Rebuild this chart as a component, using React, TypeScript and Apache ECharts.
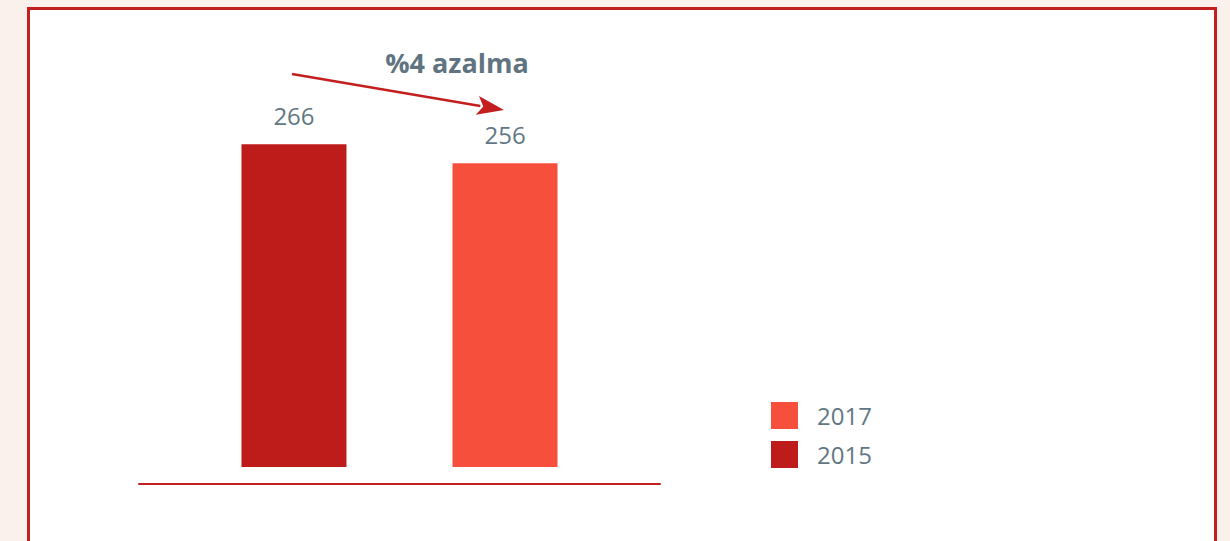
import React, { useEffect, useRef } from "react";
import * as echarts from "echarts";

const categories = ["Toplam"];
const seriesNames = ["2015", "2017"];
const values2015 = [266];
const values2017 = [256];
const legendOrder = ["2017", "2015"];
const titleText = "%4 azalma";

export default function App() {
  const ref = useRef<HTMLDivElement>(null);
  useEffect(() => {
    const chart = echarts.init(ref.current!, null, { renderer: "svg" });
    const grey = "#627784";
    const font = "'Open Sans', Lato, sans-serif";
    const tip = [504, 110];
    const start = [292, 74];
    const dx = tip[0] - start[0];
    const dy = tip[1] - start[1];
    const len = Math.sqrt(dx * dx + dy * dy);
    const ux = dx / len, uy = dy / len;
    const hl = 27, hw = 9.5;
    const bx = tip[0] - ux * hl, by = tip[1] - uy * hl;
    chart.setOption({
      animation: false,
      backgroundColor: "#FBF1EC",
      title: {
        text: titleText,
        left: 452,
        top: 44,
        textAlign: "center",
        textStyle: { color: "#5f7480", fontSize: 27, fontWeight: "bold", fontFamily: font },
      },
      legend: {
        data: legendOrder,
        orient: "vertical",
        left: 771,
        top: 402,
        padding: 0,
        itemWidth: 27,
        itemHeight: 27,
        itemGap: 12,
        icon: "rect",
        textStyle: { color: grey, fontSize: 24, fontFamily: font, padding: [0, 0, 0, 14] },
      },
      grid: { left: 139, right: 570, top: 79.4, bottom: 541 - 467 },
      xAxis: {
        type: "category",
        data: categories,
        offset: 17,
        axisLine: { show: true, lineStyle: { color: "#C41F1F", width: 2 } },
        axisTick: { show: false },
        axisLabel: { show: false },
      },
      yAxis: {
        type: "value",
        min: 96.5,
        max: 300,
        show: false,
        splitLine: { show: false },
      },
      graphic: [
        {
          type: "rect",
          z: -10,
          silent: true,
          shape: { x: 28.5, y: 8.5, width: 1187, height: 620 },
          style: { fill: "#ffffff", stroke: "#C41F1F", lineWidth: 3 },
        },
        {
          type: "line",
          z: 10,
          shape: { x1: start[0], y1: start[1], x2: bx + ux * 3, y2: by + uy * 3 },
          style: { stroke: "#C41F1F", lineWidth: 2.5 },
        },
        {
          type: "polygon",
          z: 10,
          shape: {
            points: [
              [tip[0], tip[1]],
              [bx - uy * hw, by + ux * hw],
              [bx + ux * 6, by + uy * 6],
              [bx + uy * hw, by - ux * hw],
            ],
          },
          style: { fill: "#C41F1F" },
        },
      ],
      series: [
        {
          name: seriesNames[0],
          type: "bar",
          data: values2015,
          barWidth: 105,
          barGap: "101%",
          itemStyle: { color: "#BE1B1B" },
          label: { show: true, position: "top", distance: 17, color: grey, fontSize: 24, fontFamily: font },
        },
        {
          name: seriesNames[1],
          type: "bar",
          data: values2017,
          barWidth: 105,
          itemStyle: { color: "#F64F3C" },
          label: { show: true, position: "top", distance: 17, color: grey, fontSize: 24, fontFamily: font },
        },
      ],
    });
    return () => chart.dispose();
  }, []);
  return (
    <div
      ref={ref}
      style={{ position: "fixed", left: 0, top: 0, width: 1230, height: 541 }}
    />
  );
}
